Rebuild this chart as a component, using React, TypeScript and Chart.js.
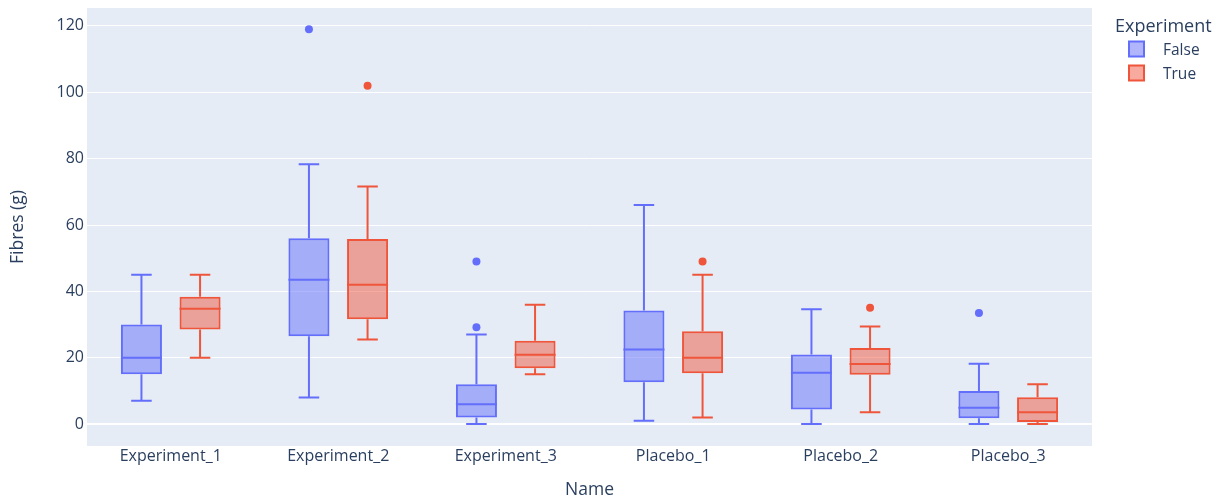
import React, { useEffect, useRef } from 'react';
import { Chart, registerables } from 'chart.js';

Chart.register(...registerables);

const categories = ['Experiment_1', 'Experiment_2', 'Experiment_3', 'Placebo_1', 'Placebo_2', 'Placebo_3'];
const seriesNames = ['False', 'True'];

const falseMin = [7, 8, 0, 1, 0, 0];
const falseQ1 = [15, 26.5, 2, 12.6, 4.4, 1.8];
const falseMedian = [20, 43.5, 6, 22.5, 15.5, 4.9];
const falseQ3 = [30, 56, 12, 34.2, 21, 10];
const falseMax = [45, 78.3, 27, 66, 34.6, 18.2];
const falseOutliers = [[], [119], [29.2, 49], [], [], [33.5]];

const trueMin = [20, 25.5, 15, 2, 3.6, 0];
const trueQ1 = [28.5, 31.6, 16.8, 15.3, 14.9, 0.6];
const trueMedian = [34.8, 42, 20.9, 20, 18.1, 3.6];
const trueQ3 = [38.4, 55.8, 25.1, 28, 22.9, 8.1];
const trueMax = [45, 71.6, 36, 45, 29.4, 12];
const trueOutliers = [[], [102], [], [49], [35.1], []];

const yTicks = [0, 20, 40, 60, 80, 100, 120];
const yMin = -6.6;
const yMax = 125.4;

const FALSE_COLOR = '#636efa';
const TRUE_COLOR = '#EF553B';
const FALSE_FILL = 'rgba(99,110,250,0.5)';
const TRUE_FILL = 'rgba(239,85,59,0.5)';
const TEXT = '#2a3f5f';
const FONT = '"Open Sans", "Liberation Sans", sans-serif';

export default function App() {
  const ref = useRef<HTMLCanvasElement>(null);

  useEffect(() => {
    document.body.style.margin = '0';
    const canvas = ref.current;
    if (!canvas) return;

    const stats = [
      { min: falseMin, med: falseMedian, max: falseMax, q1: falseQ1, q3: falseQ3, out: falseOutliers, color: FALSE_COLOR, fill: FALSE_FILL },
      { min: trueMin, med: trueMedian, max: trueMax, q1: trueQ1, q3: trueQ3, out: trueOutliers, color: TRUE_COLOR, fill: TRUE_FILL },
    ];

    const boxPlugin = {
      id: 'boxParts',
      beforeDraw(chart: any) {
        const { ctx, chartArea: a } = chart;
        ctx.save();
        ctx.fillStyle = '#E5ECF6';
        ctx.fillRect(a.left, a.top, a.right - a.left, a.bottom - a.top);
        ctx.restore();
      },
      afterDatasetsDraw(chart: any) {
        const { ctx, chartArea: a } = chart;
        const y = chart.scales.y;
        ctx.save();
        ctx.beginPath();
        ctx.rect(a.left, a.top, a.right - a.left, a.bottom - a.top);
        ctx.clip();
        stats.forEach((s, di) => {
          const meta = chart.getDatasetMeta(di);
          meta.data.forEach((bar: any, i: number) => {
            const x = bar.x;
            const w = bar.width;
            ctx.strokeStyle = s.color;
            ctx.lineWidth = 2;
            ctx.beginPath();
            const pm = y.getPixelForValue(s.med[i]);
            ctx.moveTo(x - w / 2, pm);
            ctx.lineTo(x + w / 2, pm);
            const pq3 = y.getPixelForValue(s.q3[i]);
            const pmax = y.getPixelForValue(s.max[i]);
            ctx.moveTo(x, pq3);
            ctx.lineTo(x, pmax);
            ctx.moveTo(x - w / 4, pmax);
            ctx.lineTo(x + w / 4, pmax);
            const pq1 = y.getPixelForValue(s.q1[i]);
            const pmin = y.getPixelForValue(s.min[i]);
            ctx.moveTo(x, pq1);
            ctx.lineTo(x, pmin);
            ctx.moveTo(x - w / 4, pmin);
            ctx.lineTo(x + w / 4, pmin);
            ctx.stroke();
            ctx.fillStyle = s.color;
            s.out[i].forEach((v: number) => {
              ctx.beginPath();
              ctx.arc(x, y.getPixelForValue(v), 4, 0, Math.PI * 2);
              ctx.fill();
            });
          });
        });
        ctx.restore();
      },
      afterDraw(chart: any) {
        const { ctx, chartArea: a } = chart;
        const lx = a.right + 23;
        ctx.save();
        ctx.fillStyle = TEXT;
        ctx.textBaseline = 'middle';
        ctx.textAlign = 'left';
        ctx.font = `18px ${FONT}`;
        ctx.fillText('Experiment', lx, 26.5);
        ctx.font = `15.5px ${FONT}`;
        stats.forEach((s, k) => {
          const cy = 49 + k * 24;
          ctx.fillStyle = s.fill;
          ctx.fillRect(lx + 14, cy - 7.5, 15, 15);
          ctx.strokeStyle = s.color;
          ctx.lineWidth = 2;
          ctx.strokeRect(lx + 14, cy - 7.5, 15, 15);
          ctx.fillStyle = TEXT;
          ctx.fillText(seriesNames[k], lx + 48, cy + 1.5);
        });
        ctx.restore();
      },
    };

    const chart = new Chart(canvas, {
      type: 'bar',
      data: {
        labels: categories,
        datasets: stats.map((s, k) => ({
          label: seriesNames[k],
          data: s.q1.map((v, i) => [v, s.q3[i]]),
          backgroundColor: s.fill,
          borderColor: s.color,
          borderWidth: 2,
          borderSkipped: false,
          categoryPercentage: 0.7,
          barPercentage: 0.7,
        })),
      },
      options: {
        responsive: false,
        animation: false,
        layout: { padding: { left: 0, top: 8, right: 134, bottom: 0 } },
        plugins: {
          legend: { display: false },
          tooltip: { enabled: false },
        },
        scales: {
          x: {
            grid: { display: false, drawTicks: false },
            border: { display: false },
            ticks: { color: TEXT, font: { family: FONT, size: 16 }, padding: 1, maxRotation: 0 },
            title: { display: true, text: 'Name', color: TEXT, font: { family: FONT, size: 17.5 }, padding: { top: 0, bottom: 1 } },
            afterFit: (s: any) => { s.height = 56; s.paddingLeft = 0; s.paddingRight = 0; },
          },
          y: {
            min: yMin,
            max: yMax,
            grid: {
              color: '#ffffff',
              lineWidth: (c: any) => (c.tick && c.tick.value === 0 ? 2 : 1),
              drawTicks: false,
            },
            border: { display: false },
            ticks: { color: TEXT, font: { family: FONT, size: 16 }, padding: 3 },
            afterBuildTicks: (s: any) => { s.ticks = yTicks.map((v) => ({ value: v })); },
            title: { display: true, text: 'Fibres (g)', color: TEXT, font: { family: FONT, size: 17.5 }, padding: { top: 8, bottom: 0 } },
            afterFit: (s: any) => { s.width = 87; s.paddingTop = 0; s.paddingBottom = 0; },
          },
        },
      },
      plugins: [boxPlugin],
    });

    return () => chart.destroy();
  }, []);

  return (
    <div style={{ width: 1226, height: 502, background: '#ffffff' }}>
      <canvas ref={ref} width={1226} height={502} />
    </div>
  );
}
